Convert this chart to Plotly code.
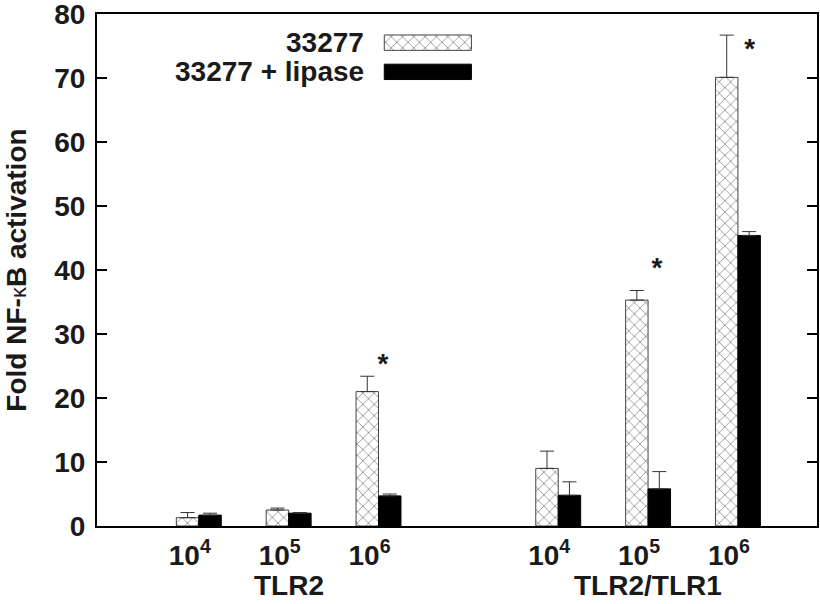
import plotly.graph_objects as go

# group positions on a numeric x axis (gap between receptor groups)
positions = [1, 2, 3, 5, 6, 7]
dose_labels = ["10<sup>4</sup>", "10<sup>5</sup>", "10<sup>6</sup>",
               "10<sup>4</sup>", "10<sup>5</sup>", "10<sup>6</sup>"]
group_names = ["TLR2", "TLR2/TLR1"]
group_centers = [2, 6]

strain = [1.3, 2.5, 21.0, 9.0, 35.3, 70.1]
strain_err = [0.8, 0.3, 2.4, 2.7, 1.5, 6.6]
lipase = [1.7, 2.0, 4.7, 4.8, 5.8, 45.4]
lipase_err = [0.3, 0.1, 0.3, 2.1, 2.7, 0.6]

# significance stars (x position, y value)
star_x = [3.05, 6.1, 7.13]
star_y = [25.0, 40.0, 74.2]

FONT = "Liberation Sans, Arial, sans-serif"
INK = "#1a1a1a"
HATCH = dict(shape="x", size=8, solidity=0.2, fgcolor="#222", bgcolor="white")

fig = go.Figure()

fig.add_trace(go.Bar(
    x=positions, y=strain, name="33277",
    marker=dict(color="white", pattern=HATCH, line=dict(color="#444", width=1)),
    error_y=dict(type="data", array=strain_err, arrayminus=[0] * 6, symmetric=False,
                 color="#333", thickness=1, width=7),
    showlegend=False))

fig.add_trace(go.Bar(
    x=positions, y=lipase, name="33277 + lipase",
    marker=dict(color="black", line=dict(color="black", width=1)),
    error_y=dict(type="data", array=lipase_err, arrayminus=[0] * 6, symmetric=False,
                 color="#333", thickness=1, width=7),
    showlegend=False))

fig.add_trace(go.Scatter(
    x=star_x, y=star_y, mode="text", text=["*"] * 3,
    textfont=dict(family=FONT, size=28, color=INK, weight="bold"), showlegend=False))

# hand-made legend: text on the left, long swatch on the right
fig.add_trace(go.Bar(
    x=[0.121], base=[0.399], y=[0.944], width=[0.030], orientation="h",
    xaxis="x2", yaxis="y2", showlegend=False,
    marker=dict(color="white", pattern=HATCH, line=dict(color="#444", width=1))))
fig.add_trace(go.Bar(
    x=[0.121], base=[0.399], y=[0.887], width=[0.030], orientation="h",
    xaxis="x2", yaxis="y2", showlegend=False,
    marker=dict(color="black", line=dict(color="black", width=1))))

annotations = [
    dict(x=0.373, y=0.944, xref="paper", yref="paper", text="33277",
         showarrow=False, xanchor="right", yanchor="middle",
         font=dict(family=FONT, size=28, color=INK, weight="bold")),
    dict(x=0.373, y=0.887, xref="paper", yref="paper", text="33277 + lipase",
         showarrow=False, xanchor="right", yanchor="middle",
         font=dict(family=FONT, size=28, color=INK, weight="bold")),
]
for name, cx in zip(group_names, group_centers):
    annotations.append(dict(x=cx, y=-0.117, xref="x", yref="paper", text=name,
                            showarrow=False, yanchor="middle",
                            font=dict(family=FONT, size=28, color=INK, weight="bold")))
annotations.append(dict(
    x=-0.113, y=0.5, xref="paper", yref="paper", textangle=-90, showarrow=False,
    xanchor="center", yanchor="middle",
    text="Fold NF-<span style='font-size:22px;font-weight:normal'>κ</span>B activation",
    font=dict(family=FONT, size=28, color=INK, weight="bold")))

fig.update_layout(
    width=820, height=604,
    margin=dict(l=97, r=3, t=14, b=78),
    plot_bgcolor="white", paper_bgcolor="white",
    barmode="group", bargap=0.5, bargroupgap=0,
    font=dict(family=FONT, color=INK),
    annotations=annotations,
    xaxis=dict(range=[-0.133, 7.88], tickvals=positions, ticktext=dose_labels,
               ticks="", showgrid=False, zeroline=False, showline=True, linecolor="black",
               linewidth=2, mirror=True, automargin=False,
               ticklabelstandoff=3, ticklabelshift=-9,
               tickfont=dict(family=FONT, size=28, color=INK, weight="bold")),
    yaxis=dict(range=[0, 80], dtick=10,
               ticks="inside", ticklen=10, tickwidth=2,
               tickcolor="black", showgrid=False, zeroline=False, showline=True,
               linecolor="black", linewidth=2, mirror="ticks", automargin=False,
               ticklabeloverflow="allow",
               tickfont=dict(family=FONT, size=28, color=INK, weight="bold"),
               ticklabelstandoff=4),
    xaxis2=dict(overlaying="x", range=[0, 1], visible=False),
    yaxis2=dict(overlaying="y", range=[0, 1], visible=False),
)

# drop the browser's default 8px body margin so the figure sits at the page origin
fig.write_html("out.html", config={"displayModeBar": False},
               post_script="document.body.style.margin='0';")
